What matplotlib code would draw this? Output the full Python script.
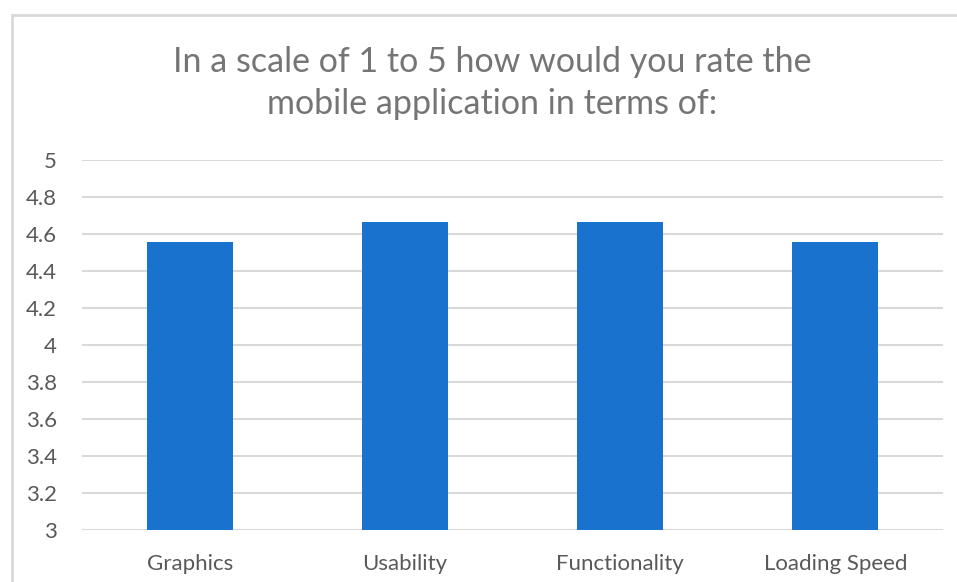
import numpy as np
import matplotlib
matplotlib.use('Agg')
from matplotlib import pyplot as plt
from matplotlib.patches import Rectangle

categories = ['Graphics', 'Usability', 'Functionality', 'Loading Speed']
ratings = [4.556, 4.667, 4.667, 4.556]
y_ticks = [3, 3.2, 3.4, 3.6, 3.8, 4, 4.2, 4.4, 4.6, 4.8, 5]
y_labels = ['3', '3.2', '3.4', '3.6', '3.8', '4', '4.2', '4.4', '4.6', '4.8', '5']

plt.rcParams['font.family'] = ['Lato', 'DejaVu Sans']

fig = plt.figure(figsize=(9.57, 5.82), dpi=100)
W, H = 957, 582

# chart border (runs off the right and bottom edge)
fig.patches.append(Rectangle((12 / W, -0.1), 1.2, 1 - 15 / H + 0.1, transform=fig.transFigure,
                             fill=False, edgecolor='#d9d9d9', linewidth=2))

ax = fig.add_axes([82 / W, 1 - 530 / H, (943 - 82) / W, (530 - 160) / H])
index = np.arange(len(categories))
ax.bar(index, ratings, width=0.4, color='#1872CE', zorder=3)

ax.set_xlim(-0.5, len(categories) - 0.5)
ax.set_ylim(3, 5)
ax.set_yticks(y_ticks)
ax.set_yticklabels(y_labels)
ax.set_xticks(index)
ax.set_xticklabels(categories)
ax.grid(axis='y', color='#d9d9d9', linewidth=1.5, zorder=0)
for s in ax.spines.values():
    s.set_visible(False)
ax.tick_params(axis='both', length=0, labelsize=16, labelcolor='#595959')
ax.tick_params(axis='y', pad=18)
ax.tick_params(axis='x', pad=17)

fig.text(492 / W, 1 - 83 / H, 'In a scale of 1 to 5 how would you rate the\nmobile application in terms of:',
         ha='center', va='center', fontsize=24.5, color='#757575', linespacing=1.4)

fig.savefig('out.png', dpi=100)
